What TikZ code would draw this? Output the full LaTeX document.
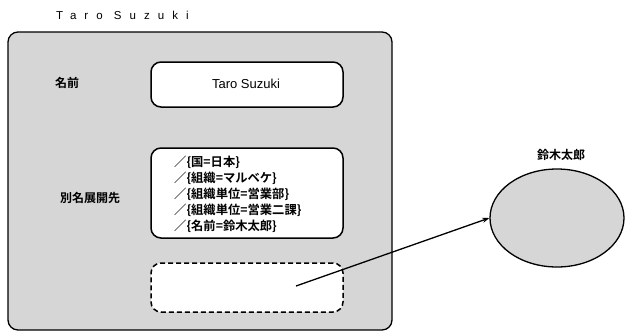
\documentclass[tikz,border=0pt]{standalone}
\usepackage{fontspec}
\setmainfont{Liberation Sans}
\newfontfamily\jp{Noto Sans CJK JP}[BoldFont={* Bold}]
\newfontfamily\spaced[LetterSpace=70]{Liberation Sans}
\usetikzlibrary{shapes.geometric,arrows.meta}
\begin{document}
\begin{tikzpicture}[x=1pt,y=-1pt,
  shade/.style={fill=black!16},
  outerbox/.style={draw,line width=1.3pt,rounded corners=10pt,shade,inner sep=0pt},
  innerbox/.style={draw,line width=1.5pt,rounded corners=10pt,fill=white,inner sep=0pt,minimum width=192pt},
  dashbox/.style={innerbox,dash pattern=on 5pt off 3pt},
  lab/.style={font=\jp\bfseries\fontsize{12}{14}\selectfont,inner sep=0pt},
  entry/.style={font=\jp\bfseries\fontsize{12.3}{16}\selectfont,align=left,inner sep=0pt}]
\useasboundingbox (0,0) rectangle (626,333);
\node[anchor=west,inner sep=0pt,font=\spaced\fontsize{11.5}{13}\selectfont] (title) at (56,15) {Taro Suzuki};
\node[outerbox,minimum width=384pt,minimum height=298pt] (outer) at (200,181) {};
\node[innerbox,minimum height=45pt] (name) at (247,84.5) {};
\node[font=\fontsize{13}{15}\selectfont,inner sep=0pt] (nametext) at (246,84) {Taro Suzuki};
\node[lab] (namelab) at (67,83) {名前};
\node[innerbox,minimum height=90pt] (alias) at (247,193) {};
\node[entry,anchor=west] (aliastext) at (174,194) {／\{国=日本\}\\／\{組織=マルベケ\}\\／\{組織単位=営業部\}\\／\{組織単位=営業二課\}\\／\{名前=鈴木太郎\}};
\node[lab] (aliaslab) at (90,198) {別名展開先};
\node[dashbox,minimum height=49pt] (dash) at (247,287.5) {};
\node[draw,ellipse,line width=1.3pt,shade,minimum width=134pt,minimum height=98pt] (ell) at (557,218) {};
\node[lab] (elllab) at (561,155) {鈴木太郎};
\coordinate (s) at (296,286);
\draw[line width=1.3pt,-{Stealth[length=7pt,width=5pt]}] (s) -- (ell.west);
\end{tikzpicture}
\end{document}
